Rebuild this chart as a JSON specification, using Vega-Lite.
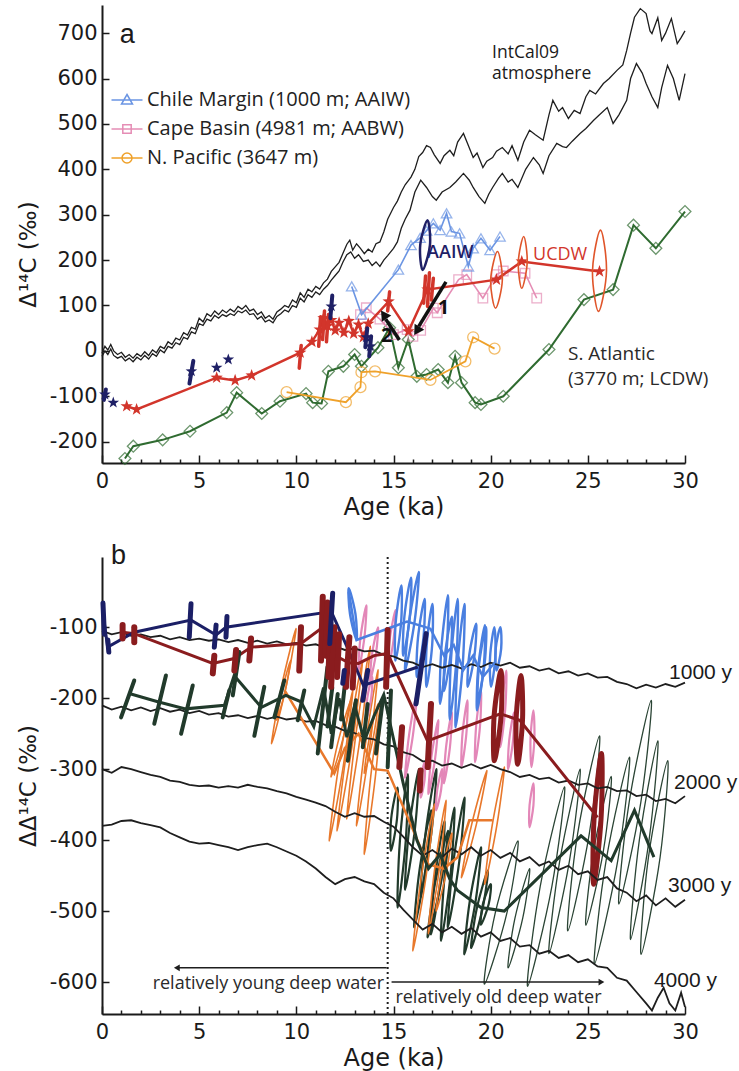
{
"$schema":"https://vega.github.io/schema/vega-lite/v6.json",
"padding":{"left":17,"top":5,"right":5,"bottom":2},
"spacing":23,
"config":{"view":{"stroke":null},"font":"DejaVu Sans",
"axis":{"domainColor":"#1a1a1a","domainWidth":2,"tickColor":"#1a1a1a","tickWidth":1.5,"labelFont":"DejaVu Sans","labelFontSize":21,"labelColor":"#1a1a1a","titleFont":"DejaVu Sans","titleFontSize":23,"titleFontWeight":"normal","titleColor":"#1a1a1a","grid":false,"labelFlush":false,"labelOverlap":false}},
"datasets":{
"ic":[
{"c":"u","a":0,"v":-5},{"c":"u","a":0.15,"v":10},{"c":"u","a":0.3,"v":2},{"c":"u","a":0.45,"v":14},{"c":"u","a":0.6,"v":0},{"c":"u","a":0.8,"v":-8},{"c":"u","a":1,"v":-3},{"c":"u","a":1.2,"v":-14},{"c":"u","a":1.4,"v":-8},{"c":"u","a":1.6,"v":-16},{"c":"u","a":1.8,"v":-6},{"c":"u","a":2,"v":-12},{"c":"u","a":2.2,"v":-2},{"c":"u","a":2.4,"v":-10},{"c":"u","a":2.6,"v":2},{"c":"u","a":2.8,"v":-4},{"c":"u","a":3,"v":10},{"c":"u","a":3.2,"v":5},{"c":"u","a":3.4,"v":20},{"c":"u","a":3.6,"v":14},{"c":"u","a":3.8,"v":28},{"c":"u","a":4,"v":24},{"c":"u","a":4.2,"v":40},{"c":"u","a":4.4,"v":35},{"c":"u","a":4.6,"v":52},{"c":"u","a":4.8,"v":48},{"c":"u","a":5,"v":72},{"c":"u","a":5.2,"v":64},{"c":"u","a":5.4,"v":82},{"c":"u","a":5.6,"v":76},{"c":"u","a":5.8,"v":88},{"c":"u","a":6,"v":80},{"c":"u","a":6.2,"v":90},{"c":"u","a":6.4,"v":84},{"c":"u","a":6.6,"v":92},{"c":"u","a":6.8,"v":86},{"c":"u","a":7,"v":98},{"c":"u","a":7.2,"v":92},{"c":"u","a":7.4,"v":100},{"c":"u","a":7.6,"v":88},{"c":"u","a":7.8,"v":92},{"c":"u","a":8,"v":80},{"c":"u","a":8.2,"v":86},{"c":"u","a":8.4,"v":72},{"c":"u","a":8.6,"v":78},{"c":"u","a":8.8,"v":70},{"c":"u","a":9,"v":86},{"c":"u","a":9.2,"v":92},{"c":"u","a":9.4,"v":100},{"c":"u","a":9.6,"v":96},{"c":"u","a":9.8,"v":112},{"c":"u","a":10,"v":106},{"c":"u","a":10.2,"v":128},{"c":"u","a":10.4,"v":118},{"c":"u","a":10.6,"v":136},{"c":"u","a":10.8,"v":130},{"c":"u","a":11,"v":142},{"c":"u","a":11.2,"v":136},{"c":"u","a":11.4,"v":150},{"c":"u","a":11.6,"v":158},{"c":"u","a":11.8,"v":175},{"c":"u","a":12,"v":185},{"c":"u","a":12.2,"v":195},{"c":"u","a":12.4,"v":215},{"c":"u","a":12.6,"v":235},{"c":"u","a":12.75,"v":244},{"c":"u","a":12.9,"v":222},{"c":"u","a":13.1,"v":236},{"c":"u","a":13.3,"v":226},{"c":"u","a":13.5,"v":214},{"c":"u","a":13.7,"v":224},{"c":"u","a":13.9,"v":218},{"c":"u","a":14.1,"v":236},{"c":"u","a":14.3,"v":240},{"c":"u","a":14.5,"v":262},{"c":"u","a":14.7,"v":290},{"c":"u","a":15,"v":316},{"c":"u","a":15.2,"v":330},{"c":"u","a":15.4,"v":350},{"c":"u","a":15.6,"v":366},{"c":"u","a":15.9,"v":383},{"c":"u","a":16.1,"v":400},{"c":"u","a":16.3,"v":428},{"c":"u","a":16.5,"v":437},{"c":"u","a":16.7,"v":452},{"c":"u","a":16.9,"v":448},{"c":"u","a":17.1,"v":432},{"c":"u","a":17.4,"v":413},{"c":"u","a":17.6,"v":430},{"c":"u","a":17.9,"v":442},{"c":"u","a":18.1,"v":430},{"c":"u","a":18.3,"v":460},{"c":"u","a":18.6,"v":479},{"c":"u","a":18.8,"v":458},{"c":"u","a":19.1,"v":426},{"c":"u","a":19.3,"v":436},{"c":"u","a":19.6,"v":404},{"c":"u","a":19.8,"v":418},{"c":"u","a":20.1,"v":426},{"c":"u","a":20.3,"v":440},{"c":"u","a":20.6,"v":448},{"c":"u","a":20.9,"v":434},{"c":"u","a":21.1,"v":452},{"c":"u","a":21.4,"v":420},{"c":"u","a":21.7,"v":460},{"c":"u","a":22,"v":486},{"c":"u","a":22.3,"v":476},{"c":"u","a":22.7,"v":464},{"c":"u","a":23,"v":520},{"c":"u","a":23.2,"v":552},{"c":"u","a":23.5,"v":528},{"c":"u","a":23.7,"v":536},{"c":"u","a":24,"v":512},{"c":"u","a":24.3,"v":530},{"c":"u","a":24.6,"v":523},{"c":"u","a":24.9,"v":560},{"c":"u","a":25.1,"v":574},{"c":"u","a":25.4,"v":566},{"c":"u","a":25.8,"v":589},{"c":"u","a":26.1,"v":600},{"c":"u","a":26.5,"v":618},{"c":"u","a":26.8,"v":630},{"c":"u","a":27,"v":662},{"c":"u","a":27.2,"v":700},{"c":"u","a":27.4,"v":735},{"c":"u","a":27.7,"v":754},{"c":"u","a":28,"v":743},{"c":"u","a":28.2,"v":705},{"c":"u","a":28.3,"v":699},{"c":"u","a":28.6,"v":734},{"c":"u","a":28.8,"v":684},{"c":"u","a":29,"v":700},{"c":"u","a":29.3,"v":732},{"c":"u","a":29.6,"v":677},{"c":"u","a":29.8,"v":690},{"c":"u","a":30,"v":705},
{"c":"l","a":0,"v":-12},{"c":"l","a":0.15,"v":0},{"c":"l","a":0.3,"v":-8},{"c":"l","a":0.45,"v":4},{"c":"l","a":0.6,"v":-10},{"c":"l","a":0.8,"v":-16},{"c":"l","a":1,"v":-12},{"c":"l","a":1.2,"v":-22},{"c":"l","a":1.4,"v":-16},{"c":"l","a":1.6,"v":-24},{"c":"l","a":1.8,"v":-14},{"c":"l","a":2,"v":-20},{"c":"l","a":2.2,"v":-10},{"c":"l","a":2.4,"v":-18},{"c":"l","a":2.6,"v":-6},{"c":"l","a":2.8,"v":-12},{"c":"l","a":3,"v":2},{"c":"l","a":3.2,"v":-4},{"c":"l","a":3.4,"v":10},{"c":"l","a":3.6,"v":6},{"c":"l","a":3.8,"v":18},{"c":"l","a":4,"v":14},{"c":"l","a":4.2,"v":30},{"c":"l","a":4.4,"v":26},{"c":"l","a":4.6,"v":42},{"c":"l","a":4.8,"v":38},{"c":"l","a":5,"v":60},{"c":"l","a":5.2,"v":56},{"c":"l","a":5.4,"v":70},{"c":"l","a":5.6,"v":66},{"c":"l","a":5.8,"v":78},{"c":"l","a":6,"v":72},{"c":"l","a":6.2,"v":80},{"c":"l","a":6.4,"v":76},{"c":"l","a":6.6,"v":82},{"c":"l","a":6.8,"v":78},{"c":"l","a":7,"v":88},{"c":"l","a":7.2,"v":84},{"c":"l","a":7.4,"v":90},{"c":"l","a":7.6,"v":80},{"c":"l","a":7.8,"v":82},{"c":"l","a":8,"v":70},{"c":"l","a":8.2,"v":76},{"c":"l","a":8.4,"v":64},{"c":"l","a":8.6,"v":68},{"c":"l","a":8.8,"v":62},{"c":"l","a":9,"v":76},{"c":"l","a":9.2,"v":82},{"c":"l","a":9.4,"v":90},{"c":"l","a":9.6,"v":86},{"c":"l","a":9.8,"v":100},{"c":"l","a":10,"v":96},{"c":"l","a":10.2,"v":116},{"c":"l","a":10.4,"v":108},{"c":"l","a":10.6,"v":124},{"c":"l","a":10.8,"v":118},{"c":"l","a":11,"v":130},{"c":"l","a":11.2,"v":124},{"c":"l","a":11.4,"v":136},{"c":"l","a":11.6,"v":144},{"c":"l","a":11.8,"v":156},{"c":"l","a":12,"v":166},{"c":"l","a":12.2,"v":176},{"c":"l","a":12.4,"v":196},{"c":"l","a":12.6,"v":212},{"c":"l","a":12.8,"v":218},{"c":"l","a":13,"v":204},{"c":"l","a":13.2,"v":212},{"c":"l","a":13.45,"v":197},{"c":"l","a":13.7,"v":200},{"c":"l","a":13.9,"v":188},{"c":"l","a":14.1,"v":196},{"c":"l","a":14.3,"v":186},{"c":"l","a":14.5,"v":200},{"c":"l","a":14.7,"v":210},{"c":"l","a":15,"v":226},{"c":"l","a":15.2,"v":240},{"c":"l","a":15.4,"v":270},{"c":"l","a":15.6,"v":290},{"c":"l","a":15.85,"v":310},{"c":"l","a":16.1,"v":350},{"c":"l","a":16.4,"v":376},{"c":"l","a":16.7,"v":360},{"c":"l","a":17,"v":340},{"c":"l","a":17.2,"v":332},{"c":"l","a":17.5,"v":350},{"c":"l","a":17.9,"v":360},{"c":"l","a":18.2,"v":372},{"c":"l","a":18.6,"v":391},{"c":"l","a":18.9,"v":376},{"c":"l","a":19.1,"v":360},{"c":"l","a":19.4,"v":340},{"c":"l","a":19.7,"v":325},{"c":"l","a":19.9,"v":345},{"c":"l","a":20.1,"v":360},{"c":"l","a":20.4,"v":380},{"c":"l","a":20.6,"v":391},{"c":"l","a":20.9,"v":372},{"c":"l","a":21.1,"v":378},{"c":"l","a":21.4,"v":360},{"c":"l","a":21.8,"v":400},{"c":"l","a":22.2,"v":426},{"c":"l","a":22.5,"v":410},{"c":"l","a":22.7,"v":391},{"c":"l","a":23,"v":430},{"c":"l","a":23.4,"v":457},{"c":"l","a":23.7,"v":450},{"c":"l","a":23.9,"v":448},{"c":"l","a":24.2,"v":462},{"c":"l","a":24.6,"v":479},{"c":"l","a":24.9,"v":490},{"c":"l","a":25.3,"v":508},{"c":"l","a":25.6,"v":520},{"c":"l","a":26,"v":536},{"c":"l","a":26.3,"v":501},{"c":"l","a":26.6,"v":520},{"c":"l","a":27,"v":552},{"c":"l","a":27.2,"v":600},{"c":"l","a":27.5,"v":633},{"c":"l","a":27.8,"v":612},{"c":"l","a":28,"v":589},{"c":"l","a":28.3,"v":560},{"c":"l","a":28.6,"v":536},{"c":"l","a":28.8,"v":580},{"c":"l","a":29.1,"v":629},{"c":"l","a":29.4,"v":600},{"c":"l","a":29.7,"v":552},{"c":"l","a":30,"v":611}],
"chile":[{"a":12.85,"v":142},{"a":13.36,"v":80},{"a":15.25,"v":179},{"a":15.9,"v":233},{"a":16.37,"v":249},{"a":16.7,"v":265},{"a":17.05,"v":281},{"a":17.4,"v":266},{"a":17.73,"v":303},{"a":17.98,"v":263},{"a":18.4,"v":259},{"a":18.85,"v":186},{"a":19.1,"v":226},{"a":19.5,"v":248},{"a":19.97,"v":222},{"a":20.48,"v":252}],
"cape":[{"a":13.3,"v":80},{"a":13.6,"v":95},{"a":14.3,"v":70},{"a":15.0,"v":36},{"a":15.7,"v":47},{"a":16.0,"v":32},{"a":16.4,"v":45},{"a":17.05,"v":94},{"a":17.25,"v":84},{"a":18.35,"v":157},{"a":18.77,"v":168},{"a":19.6,"v":116},{"a":20.3,"v":168},{"a":20.65,"v":176},{"a":21.77,"v":171},{"a":22.37,"v":116}],
"npac":[{"a":9.5,"v":-91},{"a":12.55,"v":-113},{"a":13.3,"v":-80},{"a":13.35,"v":-47},{"a":14.05,"v":-45},{"a":16.9,"v":-64},{"a":18.7,"v":-23},{"a":19.1,"v":30},{"a":20.2,"v":5}],
"ucdw":[{"a":1.27,"v":-122},{"a":1.78,"v":-129},{"a":5.9,"v":-59},{"a":6.85,"v":-65},{"a":7.7,"v":-54},{"a":10.2,"v":-4},{"a":10.8,"v":20},{"a":11.2,"v":47},{"a":11.4,"v":72},{"a":11.6,"v":55},{"a":11.8,"v":68},{"a":12.0,"v":45},{"a":12.2,"v":62},{"a":12.45,"v":40},{"a":12.7,"v":66},{"a":12.95,"v":38},{"a":13.2,"v":58},{"a":13.45,"v":30},{"a":13.7,"v":60},{"a":14.75,"v":109},{"a":15.77,"v":43},{"a":16.75,"v":135},{"a":20.3,"v":157},{"a":21.6,"v":197},{"a":25.6,"v":175}],
"satl":[{"a":1.18,"v":-237},{"a":1.61,"v":-210},{"a":3.12,"v":-196},{"a":4.53,"v":-177},{"a":6.42,"v":-136},{"a":6.93,"v":-92},{"a":8.22,"v":-138},{"a":9.16,"v":-111},{"a":10.5,"v":-94},{"a":10.84,"v":-114},{"a":11.3,"v":-116},{"a":11.65,"v":-45},{"a":12.42,"v":-34},{"a":13.0,"v":-8},{"a":13.35,"v":-34},{"a":14.2,"v":7},{"a":14.8,"v":51},{"a":15.25,"v":-37},{"a":15.76,"v":25},{"a":16.2,"v":-56},{"a":16.7,"v":-52},{"a":17.3,"v":-41},{"a":17.8,"v":-70},{"a":18.17,"v":-12},{"a":18.5,"v":-70},{"a":19.2,"v":-114},{"a":19.5,"v":-118},{"a":20.65,"v":-100},{"a":23.0,"v":3},{"a":24.8,"v":113},{"a":26.3,"v":135},{"a":27.35,"v":277},{"a":28.5,"v":226},{"a":30.0,"v":307}],
"nstar":[{"a":0.15,"v":-96},{"a":0.58,"v":-114},{"a":4.6,"v":-45},{"a":5.9,"v":-37},{"a":6.5,"v":-19},{"a":11.8,"v":98},{"a":13.6,"v":30},{"a":13.8,"v":10}],
"abar":[{"s":"r","a":10.25,"v":12,"a2":10.15,"v2":-38},{"s":"r","a":11.25,"v":75,"a2":11.15,"v2":10},{"s":"r","a":11.45,"v":88,"a2":11.35,"v2":25},{"s":"r","a":11.65,"v":80,"a2":11.55,"v2":20},{"s":"r","a":16.65,"v":165,"a2":16.55,"v2":105},{"s":"r","a":16.85,"v":172,"a2":16.75,"v2":98},{"s":"r","a":17.05,"v":160,"a2":16.95,"v2":112},{"s":"r","a":14.8,"v":130,"a2":14.7,"v2":88},
{"s":"n","a":4.7,"v":-22,"a2":4.5,"v2":-72},{"s":"n","a":11.85,"v":122,"a2":11.75,"v2":72},{"s":"n","a":13.65,"v":50,"a2":13.55,"v2":8},{"s":"n","a":13.85,"v":32,"a2":13.75,"v2":-12},{"s":"n","a":0.2,"v":-85,"a2":0.1,"v2":-108}],
"aell":[{"s":"n","g":"n1","k":0,"a":16.75,"v":288},{"s":"n","g":"n1","k":1,"a":16.875,"v":233},{"s":"n","g":"n1","k":2,"a":16.5,"v":178},{"s":"n","g":"n1","k":3,"a":16.375,"v":233},
{"s":"r","g":"r1","k":0,"a":20.35,"v":219},{"s":"r","g":"r1","k":1,"a":20.6,"v":156},{"s":"r","g":"r1","k":2,"a":20.25,"v":94},{"s":"r","g":"r1","k":3,"a":20.0,"v":156},
{"s":"r","g":"r2","k":0,"a":21.7,"v":252},{"s":"r","g":"r2","k":1,"a":21.88,"v":195},{"s":"r","g":"r2","k":2,"a":21.6,"v":138},{"s":"r","g":"r2","k":3,"a":21.42,"v":195},
{"s":"r","g":"r3","k":0,"a":25.65,"v":266},{"s":"r","g":"r3","k":1,"a":25.96,"v":176},{"s":"r","g":"r3","k":2,"a":25.55,"v":87},{"s":"r","g":"r3","k":3,"a":25.24,"v":176}],
"rl":[
{"c":"1","a":0,"v":-105},{"c":"1","a":0.5,"v":-110},{"c":"1","a":1,"v":-107},{"c":"1","a":1.5,"v":-112},{"c":"1","a":2,"v":-110},{"c":"1","a":2.5,"v":-114},{"c":"1","a":3,"v":-112},{"c":"1","a":3.5,"v":-117},{"c":"1","a":4,"v":-114},{"c":"1","a":4.5,"v":-118},{"c":"1","a":5,"v":-116},{"c":"1","a":5.5,"v":-119},{"c":"1","a":6,"v":-117},{"c":"1","a":6.5,"v":-121},{"c":"1","a":7,"v":-118},{"c":"1","a":7.5,"v":-122},{"c":"1","a":8,"v":-119},{"c":"1","a":8.5,"v":-123},{"c":"1","a":9,"v":-120},{"c":"1","a":9.5,"v":-124},{"c":"1","a":10,"v":-122},{"c":"1","a":10.5,"v":-126},{"c":"1","a":11,"v":-124},{"c":"1","a":11.5,"v":-129},{"c":"1","a":12,"v":-127},{"c":"1","a":12.5,"v":-132},{"c":"1","a":13,"v":-130},{"c":"1","a":13.5,"v":-134},{"c":"1","a":14,"v":-133},{"c":"1","a":14.5,"v":-139},{"c":"1","a":15,"v":-141},{"c":"1","a":15.5,"v":-147},{"c":"1","a":16,"v":-150},{"c":"1","a":16.5,"v":-156},{"c":"1","a":17,"v":-152},{"c":"1","a":17.5,"v":-157},{"c":"1","a":18,"v":-153},{"c":"1","a":18.5,"v":-158},{"c":"1","a":19,"v":-152},{"c":"1","a":19.5,"v":-156},{"c":"1","a":20,"v":-150},{"c":"1","a":20.5,"v":-154},{"c":"1","a":21,"v":-150},{"c":"1","a":21.5,"v":-157},{"c":"1","a":22,"v":-155},{"c":"1","a":22.5,"v":-161},{"c":"1","a":23,"v":-158},{"c":"1","a":23.5,"v":-165},{"c":"1","a":24,"v":-162},{"c":"1","a":24.5,"v":-168},{"c":"1","a":25,"v":-165},{"c":"1","a":25.5,"v":-171},{"c":"1","a":26,"v":-170},{"c":"1","a":26.5,"v":-177},{"c":"1","a":27,"v":-180},{"c":"1","a":27.5,"v":-186},{"c":"1","a":28,"v":-181},{"c":"1","a":28.5,"v":-185},{"c":"1","a":29,"v":-180},{"c":"1","a":29.5,"v":-184},{"c":"1","a":30,"v":-178},
{"c":"2","a":0,"v":-210},{"c":"2","a":0.5,"v":-216},{"c":"2","a":1,"v":-212},{"c":"2","a":1.5,"v":-217},{"c":"2","a":2,"v":-213},{"c":"2","a":2.5,"v":-218},{"c":"2","a":3,"v":-214},{"c":"2","a":3.5,"v":-219},{"c":"2","a":4,"v":-216},{"c":"2","a":4.5,"v":-221},{"c":"2","a":5,"v":-218},{"c":"2","a":5.5,"v":-223},{"c":"2","a":6,"v":-221},{"c":"2","a":6.5,"v":-226},{"c":"2","a":7,"v":-224},{"c":"2","a":7.5,"v":-228},{"c":"2","a":8,"v":-225},{"c":"2","a":8.5,"v":-229},{"c":"2","a":9,"v":-226},{"c":"2","a":9.5,"v":-230},{"c":"2","a":10,"v":-228},{"c":"2","a":10.5,"v":-233},{"c":"2","a":11,"v":-232},{"c":"2","a":11.5,"v":-238},{"c":"2","a":12,"v":-240},{"c":"2","a":12.5,"v":-246},{"c":"2","a":13,"v":-249},{"c":"2","a":13.5,"v":-256},{"c":"2","a":14,"v":-258},{"c":"2","a":14.5,"v":-265},{"c":"2","a":15,"v":-268},{"c":"2","a":15.5,"v":-276},{"c":"2","a":16,"v":-280},{"c":"2","a":16.5,"v":-289},{"c":"2","a":17,"v":-288},{"c":"2","a":17.5,"v":-295},{"c":"2","a":18,"v":-292},{"c":"2","a":18.5,"v":-298},{"c":"2","a":19,"v":-293},{"c":"2","a":19.5,"v":-299},{"c":"2","a":20,"v":-294},{"c":"2","a":20.5,"v":-300},{"c":"2","a":21,"v":-304},{"c":"2","a":21.5,"v":-311},{"c":"2","a":22,"v":-308},{"c":"2","a":22.5,"v":-314},{"c":"2","a":23,"v":-312},{"c":"2","a":23.5,"v":-319},{"c":"2","a":24,"v":-316},{"c":"2","a":24.5,"v":-322},{"c":"2","a":25,"v":-320},{"c":"2","a":25.5,"v":-327},{"c":"2","a":26,"v":-325},{"c":"2","a":26.5,"v":-331},{"c":"2","a":27,"v":-330},{"c":"2","a":27.5,"v":-338},{"c":"2","a":28,"v":-336},{"c":"2","a":28.5,"v":-345},{"c":"2","a":29,"v":-342},{"c":"2","a":29.5,"v":-348},{"c":"2","a":30,"v":-338},
{"c":"3","a":0,"v":-300},{"c":"3","a":0.5,"v":-305},{"c":"3","a":1,"v":-297},{"c":"3","a":1.5,"v":-300},{"c":"3","a":2,"v":-304},{"c":"3","a":2.5,"v":-308},{"c":"3","a":3,"v":-311},{"c":"3","a":3.5,"v":-316},{"c":"3","a":4,"v":-318},{"c":"3","a":4.5,"v":-322},{"c":"3","a":5,"v":-324},{"c":"3","a":5.5,"v":-323},{"c":"3","a":6,"v":-326},{"c":"3","a":6.5,"v":-324},{"c":"3","a":7,"v":-326},{"c":"3","a":7.5,"v":-322},{"c":"3","a":8,"v":-325},{"c":"3","a":8.5,"v":-327},{"c":"3","a":9,"v":-331},{"c":"3","a":9.5,"v":-334},{"c":"3","a":10,"v":-339},{"c":"3","a":10.5,"v":-343},{"c":"3","a":11,"v":-347},{"c":"3","a":11.5,"v":-352},{"c":"3","a":12,"v":-360},{"c":"3","a":12.5,"v":-367},{"c":"3","a":13,"v":-362},{"c":"3","a":13.5,"v":-367},{"c":"3","a":14,"v":-366},{"c":"3","a":14.5,"v":-374},{"c":"3","a":15,"v":-381},{"c":"3","a":15.5,"v":-395},{"c":"3","a":16,"v":-410},{"c":"3","a":16.5,"v":-422},{"c":"3","a":17,"v":-414},{"c":"3","a":17.5,"v":-424},{"c":"3","a":18,"v":-412},{"c":"3","a":18.5,"v":-420},{"c":"3","a":19,"v":-410},{"c":"3","a":19.5,"v":-422},{"c":"3","a":20,"v":-414},{"c":"3","a":20.5,"v":-425},{"c":"3","a":21,"v":-418},{"c":"3","a":21.5,"v":-430},{"c":"3","a":22,"v":-424},{"c":"3","a":22.5,"v":-436},{"c":"3","a":23,"v":-430},{"c":"3","a":23.5,"v":-442},{"c":"3","a":24,"v":-436},{"c":"3","a":24.5,"v":-448},{"c":"3","a":25,"v":-444},{"c":"3","a":25.5,"v":-456},{"c":"3","a":26,"v":-452},{"c":"3","a":26.5,"v":-468},{"c":"3","a":27,"v":-474},{"c":"3","a":27.5,"v":-486},{"c":"3","a":28,"v":-478},{"c":"3","a":28.5,"v":-492},{"c":"3","a":29,"v":-482},{"c":"3","a":29.5,"v":-494},{"c":"3","a":30,"v":-484},
{"c":"4","a":0,"v":-380},{"c":"4","a":0.5,"v":-378},{"c":"4","a":1,"v":-373},{"c":"4","a":1.5,"v":-372},{"c":"4","a":2,"v":-376},{"c":"4","a":2.5,"v":-379},{"c":"4","a":3,"v":-382},{"c":"4","a":3.5,"v":-390},{"c":"4","a":4,"v":-396},{"c":"4","a":4.5,"v":-402},{"c":"4","a":5,"v":-405},{"c":"4","a":5.5,"v":-404},{"c":"4","a":6,"v":-407},{"c":"4","a":6.5,"v":-410},{"c":"4","a":7,"v":-414},{"c":"4","a":7.5,"v":-410},{"c":"4","a":8,"v":-407},{"c":"4","a":8.5,"v":-405},{"c":"4","a":9,"v":-410},{"c":"4","a":9.5,"v":-416},{"c":"4","a":10,"v":-422},{"c":"4","a":10.5,"v":-430},{"c":"4","a":11,"v":-440},{"c":"4","a":11.5,"v":-452},{"c":"4","a":12,"v":-462},{"c":"4","a":12.5,"v":-455},{"c":"4","a":13,"v":-452},{"c":"4","a":13.5,"v":-458},{"c":"4","a":14,"v":-462},{"c":"4","a":14.5,"v":-474},{"c":"4","a":15,"v":-482},{"c":"4","a":15.5,"v":-498},{"c":"4","a":16,"v":-512},{"c":"4","a":16.5,"v":-526},{"c":"4","a":17,"v":-518},{"c":"4","a":17.5,"v":-530},{"c":"4","a":18,"v":-522},{"c":"4","a":18.5,"v":-532},{"c":"4","a":19,"v":-524},{"c":"4","a":19.5,"v":-536},{"c":"4","a":20,"v":-530},{"c":"4","a":20.5,"v":-542},{"c":"4","a":21,"v":-538},{"c":"4","a":21.5,"v":-550},{"c":"4","a":22,"v":-548},{"c":"4","a":22.5,"v":-560},{"c":"4","a":23,"v":-556},{"c":"4","a":23.5,"v":-566},{"c":"4","a":24,"v":-562},{"c":"4","a":24.5,"v":-572},{"c":"4","a":25,"v":-568},{"c":"4","a":25.5,"v":-578},{"c":"4","a":26,"v":-580},{"c":"4","a":26.5,"v":-594},{"c":"4","a":27,"v":-598},{"c":"4","a":27.5,"v":-614},{"c":"4","a":28,"v":-630},{"c":"4","a":28.3,"v":-640},{"c":"4","a":28.6,"v":-622},{"c":"4","a":28.9,"v":-608},{"c":"4","a":29.2,"v":-630},{"c":"4","a":29.5,"v":-640},{"c":"4","a":29.8,"v":-615},{"c":"4","a":30,"v":-635}],
"bell":[
{"s":"G","g":"G1","k":0,"a":21.4,"v":-401},{"s":"G","g":"G1","k":1,"a":20.84,"v":-502},{"s":"G","g":"G1","k":2,"a":19.68,"v":-603},{"s":"G","g":"G1","k":3,"a":20.24,"v":-502},
{"s":"G","g":"G2","k":0,"a":23.8,"v":-325},{"s":"G","g":"G2","k":1,"a":23.15,"v":-465},{"s":"G","g":"G2","k":2,"a":21.9,"v":-606},{"s":"G","g":"G2","k":3,"a":22.55,"v":-465},
{"s":"G","g":"G3","k":0,"a":25.6,"v":-253},{"s":"G","g":"G3","k":1,"a":25.08,"v":-390},{"s":"G","g":"G3","k":2,"a":23.97,"v":-528},{"s":"G","g":"G3","k":3,"a":24.48,"v":-390},
{"s":"G","g":"G4","k":0,"a":27.14,"v":-283},{"s":"G","g":"G4","k":1,"a":26.54,"v":-429},{"s":"G","g":"G4","k":2,"a":25.34,"v":-575},{"s":"G","g":"G4","k":3,"a":25.94,"v":-429},
{"s":"G","g":"G5","k":0,"a":28.26,"v":-203},{"s":"G","g":"G5","k":1,"a":27.73,"v":-346},{"s":"G","g":"G5","k":2,"a":26.6,"v":-490},{"s":"G","g":"G5","k":3,"a":27.13,"v":-346},
{"s":"G","g":"G6","k":0,"a":29.11,"v":-288},{"s":"G","g":"G6","k":1,"a":28.72,"v":-424},{"s":"G","g":"G6","k":2,"a":27.74,"v":-561},{"s":"G","g":"G6","k":3,"a":28.12,"v":-424},
{"s":"G","g":"G7","k":0,"a":24.6,"v":-300},{"s":"G","g":"G7","k":1,"a":24.05,"v":-430},{"s":"G","g":"G7","k":2,"a":23.0,"v":-560},{"s":"G","g":"G7","k":3,"a":23.55,"v":-430},
{"s":"G","g":"G8","k":0,"a":28.6,"v":-260},{"s":"G","g":"G8","k":1,"a":28.15,"v":-400},{"s":"G","g":"G8","k":2,"a":27.2,"v":-540},{"s":"G","g":"G8","k":3,"a":27.65,"v":-400},
{"s":"G","g":"G9","k":0,"a":26.2,"v":-310},{"s":"G","g":"G9","k":1,"a":25.8,"v":-415},{"s":"G","g":"G9","k":2,"a":24.9,"v":-520},{"s":"G","g":"G9","k":3,"a":25.3,"v":-415},
{"s":"G","g":"G10","k":0,"a":22.0,"v":-440},{"s":"G","g":"G10","k":1,"a":21.65,"v":-510},{"s":"G","g":"G10","k":2,"a":20.9,"v":-580},{"s":"G","g":"G10","k":3,"a":21.25,"v":-510},
{"s":"M","g":"M1","k":0,"a":15.73,"v":-307},{"s":"M","g":"M1","k":1,"a":15.63,"v":-401},{"s":"M","g":"M1","k":2,"a":15.22,"v":-495},{"s":"M","g":"M1","k":3,"a":15.33,"v":-401},
{"s":"M","g":"M2","k":0,"a":16.93,"v":-358},{"s":"M","g":"M2","k":1,"a":16.65,"v":-440},{"s":"M","g":"M2","k":2,"a":16.07,"v":-523},{"s":"M","g":"M2","k":3,"a":16.35,"v":-440},
{"s":"M","g":"M3","k":0,"a":17.62,"v":-373},{"s":"M","g":"M3","k":1,"a":17.43,"v":-453},{"s":"M","g":"M3","k":2,"a":16.93,"v":-533},{"s":"M","g":"M3","k":3,"a":17.13,"v":-453},
{"s":"M","g":"M4","k":0,"a":18.13,"v":-354},{"s":"M","g":"M4","k":1,"a":17.94,"v":-448},{"s":"M","g":"M4","k":2,"a":17.45,"v":-542},{"s":"M","g":"M4","k":3,"a":17.64,"v":-448},
{"s":"M","g":"M5","k":0,"a":18.65,"v":-340},{"s":"M","g":"M5","k":1,"a":18.38,"v":-431},{"s":"M","g":"M5","k":2,"a":17.8,"v":-523},{"s":"M","g":"M5","k":3,"a":18.08,"v":-431},
{"s":"M","g":"M6","k":0,"a":19.5,"v":-410},{"s":"M","g":"M6","k":1,"a":19.23,"v":-485},{"s":"M","g":"M6","k":2,"a":18.65,"v":-561},{"s":"M","g":"M6","k":3,"a":18.93,"v":-485},
{"s":"M","g":"M7","k":0,"a":19.85,"v":-443},{"s":"M","g":"M7","k":1,"a":19.58,"v":-497},{"s":"M","g":"M7","k":2,"a":19.0,"v":-552},{"s":"M","g":"M7","k":3,"a":19.28,"v":-497},
{"s":"M","g":"M8","k":0,"a":20.0,"v":-462},{"s":"M","g":"M8","k":1,"a":19.9,"v":-490},{"s":"M","g":"M8","k":2,"a":19.5,"v":-519},{"s":"M","g":"M8","k":3,"a":19.6,"v":-490},
{"s":"M","g":"M9","k":0,"a":15.2,"v":-326},{"s":"M","g":"M9","k":1,"a":15.18,"v":-370},{"s":"M","g":"M9","k":2,"a":14.87,"v":-415},{"s":"M","g":"M9","k":3,"a":14.88,"v":-370},
{"s":"M","g":"M10","k":0,"a":17.8,"v":-387},{"s":"M","g":"M10","k":1,"a":17.43,"v":-462},{"s":"M","g":"M10","k":2,"a":16.76,"v":-537},{"s":"M","g":"M10","k":3,"a":17.13,"v":-462},
{"s":"M","g":"M11","k":0,"a":17.2,"v":-300},{"s":"M","g":"M11","k":1,"a":16.95,"v":-390},{"s":"M","g":"M11","k":2,"a":16.4,"v":-480},{"s":"M","g":"M11","k":3,"a":16.65,"v":-390},
{"s":"M","g":"M12","k":0,"a":16.3,"v":-300},{"s":"M","g":"M12","k":1,"a":16.1,"v":-385},{"s":"M","g":"M12","k":2,"a":15.6,"v":-470},{"s":"M","g":"M12","k":3,"a":15.8,"v":-385},
{"s":"O","g":"O1","k":0,"a":9.98,"v":-102},{"s":"O","g":"O1","k":1,"a":9.48,"v":-183},{"s":"O","g":"O1","k":2,"a":8.73,"v":-264},{"s":"O","g":"O1","k":3,"a":9.24,"v":-183},
{"s":"O","g":"O2","k":0,"a":9.7,"v":-147},{"s":"O","g":"O2","k":1,"a":9.43,"v":-189},{"s":"O","g":"O2","k":2,"a":9.0,"v":-231},{"s":"O","g":"O2","k":3,"a":9.27,"v":-189},
{"s":"O","g":"O3","k":0,"a":12.9,"v":-189},{"s":"O","g":"O3","k":1,"a":12.42,"v":-295},{"s":"O","g":"O3","k":2,"a":11.7,"v":-401},{"s":"O","g":"O3","k":3,"a":12.18,"v":-295},
{"s":"O","g":"O4","k":0,"a":13.4,"v":-147},{"s":"O","g":"O4","k":1,"a":12.87,"v":-267},{"s":"O","g":"O4","k":2,"a":12.1,"v":-387},{"s":"O","g":"O4","k":3,"a":12.63,"v":-267},
{"s":"O","g":"O5","k":0,"a":13.8,"v":-127},{"s":"O","g":"O5","k":1,"a":13.32,"v":-248},{"s":"O","g":"O5","k":2,"a":12.6,"v":-370},{"s":"O","g":"O5","k":3,"a":13.08,"v":-248},
{"s":"O","g":"O6","k":0,"a":14.2,"v":-160},{"s":"O","g":"O6","k":1,"a":13.77,"v":-270},{"s":"O","g":"O6","k":2,"a":13.1,"v":-380},{"s":"O","g":"O6","k":3,"a":13.53,"v":-270},
{"s":"O","g":"O7","k":0,"a":14.4,"v":-200},{"s":"O","g":"O7","k":1,"a":14.07,"v":-310},{"s":"O","g":"O7","k":2,"a":13.5,"v":-420},{"s":"O","g":"O7","k":3,"a":13.83,"v":-310},
{"s":"O","g":"O8","k":0,"a":17.1,"v":-349},{"s":"O","g":"O8","k":1,"a":16.67,"v":-452},{"s":"O","g":"O8","k":2,"a":16.0,"v":-556},{"s":"O","g":"O8","k":3,"a":16.43,"v":-452},
{"s":"O","g":"O9","k":0,"a":17.7,"v":-344},{"s":"O","g":"O9","k":1,"a":17.37,"v":-438},{"s":"O","g":"O9","k":2,"a":16.8,"v":-532},{"s":"O","g":"O9","k":3,"a":17.13,"v":-438},
{"s":"O","g":"O10","k":0,"a":19.8,"v":-302},{"s":"O","g":"O10","k":1,"a":19.27,"v":-377},{"s":"O","g":"O10","k":2,"a":18.5,"v":-453},{"s":"O","g":"O10","k":3,"a":19.03,"v":-377},
{"s":"O","g":"O11","k":0,"a":20.7,"v":-297},{"s":"O","g":"O11","k":1,"a":20.32,"v":-379},{"s":"O","g":"O11","k":2,"a":19.7,"v":-462},{"s":"O","g":"O11","k":3,"a":20.08,"v":-379},
{"s":"O","g":"O12","k":0,"a":18.0,"v":-390},{"s":"O","g":"O12","k":1,"a":17.72,"v":-445},{"s":"O","g":"O12","k":2,"a":17.2,"v":-500},{"s":"O","g":"O12","k":3,"a":17.48,"v":-445},
{"s":"O","g":"O13","k":0,"a":12.8,"v":-203},{"s":"O","g":"O13","k":1,"a":12.4,"v":-257},{"s":"O","g":"O13","k":2,"a":11.79,"v":-311},{"s":"O","g":"O13","k":3,"a":12.19,"v":-257},
{"s":"O","g":"O14","k":0,"a":14.2,"v":-208},{"s":"O","g":"O14","k":1,"a":13.95,"v":-257},{"s":"O","g":"O14","k":2,"a":13.5,"v":-306},{"s":"O","g":"O14","k":3,"a":13.75,"v":-257},
{"s":"P","g":"P1","k":0,"a":13.6,"v":-69},{"s":"P","g":"P1","k":1,"a":13.5,"v":-115},{"s":"P","g":"P1","k":2,"a":13.2,"v":-161},{"s":"P","g":"P1","k":3,"a":13.3,"v":-115},
{"s":"P","g":"P2","k":0,"a":14.2,"v":-100},{"s":"P","g":"P2","k":1,"a":14.1,"v":-137},{"s":"P","g":"P2","k":2,"a":13.8,"v":-175},{"s":"P","g":"P2","k":3,"a":13.9,"v":-137},
{"s":"P","g":"P3","k":0,"a":15.1,"v":-76},{"s":"P","g":"P3","k":1,"a":15.0,"v":-118},{"s":"P","g":"P3","k":2,"a":14.7,"v":-161},{"s":"P","g":"P3","k":3,"a":14.8,"v":-118},
{"s":"P","g":"P4","k":0,"a":16.2,"v":-193},{"s":"P","g":"P4","k":1,"a":16.0,"v":-252},{"s":"P","g":"P4","k":2,"a":15.6,"v":-312},{"s":"P","g":"P4","k":3,"a":15.8,"v":-252},
{"s":"P","g":"P5","k":0,"a":17.3,"v":-231},{"s":"P","g":"P5","k":1,"a":17.15,"v":-283},{"s":"P","g":"P5","k":2,"a":16.8,"v":-335},{"s":"P","g":"P5","k":3,"a":16.95,"v":-283},
{"s":"P","g":"P6","k":0,"a":18.0,"v":-220},{"s":"P","g":"P6","k":1,"a":17.9,"v":-270},{"s":"P","g":"P6","k":2,"a":17.6,"v":-320},{"s":"P","g":"P6","k":3,"a":17.7,"v":-270},
{"s":"P","g":"P7","k":0,"a":18.8,"v":-203},{"s":"P","g":"P7","k":1,"a":18.75,"v":-250},{"s":"P","g":"P7","k":2,"a":18.5,"v":-297},{"s":"P","g":"P7","k":3,"a":18.55,"v":-250},
{"s":"P","g":"P8","k":0,"a":19.5,"v":-190},{"s":"P","g":"P8","k":1,"a":19.45,"v":-240},{"s":"P","g":"P8","k":2,"a":19.2,"v":-290},{"s":"P","g":"P8","k":3,"a":19.25,"v":-240},
{"s":"P","g":"P9","k":0,"a":20.8,"v":-161},{"s":"P","g":"P9","k":1,"a":20.75,"v":-215},{"s":"P","g":"P9","k":2,"a":20.5,"v":-269},{"s":"P","g":"P9","k":3,"a":20.55,"v":-215},
{"s":"P","g":"P10","k":0,"a":22.2,"v":-217},{"s":"P","g":"P10","k":1,"a":22.25,"v":-257},{"s":"P","g":"P10","k":2,"a":22.1,"v":-297},{"s":"P","g":"P10","k":3,"a":22.05,"v":-257},
{"s":"P","g":"P11","k":0,"a":22.2,"v":-320},{"s":"P","g":"P11","k":1,"a":22.2,"v":-351},{"s":"P","g":"P11","k":2,"a":22.0,"v":-382},{"s":"P","g":"P11","k":3,"a":22.0,"v":-351},
{"s":"P","g":"P12","k":0,"a":17.5,"v":-300},{"s":"P","g":"P12","k":1,"a":17.45,"v":-329},{"s":"P","g":"P12","k":2,"a":17.2,"v":-358},{"s":"P","g":"P12","k":3,"a":17.25,"v":-329},
{"s":"P","g":"P13","k":0,"a":13.9,"v":-170},{"s":"P","g":"P13","k":1,"a":13.85,"v":-200},{"s":"P","g":"P13","k":2,"a":13.6,"v":-230},{"s":"P","g":"P13","k":3,"a":13.65,"v":-200},
{"s":"P","g":"P14","k":0,"a":16.6,"v":-290},{"s":"P","g":"P14","k":1,"a":16.6,"v":-315},{"s":"P","g":"P14","k":2,"a":16.4,"v":-340},{"s":"P","g":"P14","k":3,"a":16.4,"v":-315},
{"s":"P","g":"P15","k":0,"a":21.2,"v":-220},{"s":"P","g":"P15","k":1,"a":21.15,"v":-260},{"s":"P","g":"P15","k":2,"a":20.9,"v":-300},{"s":"P","g":"P15","k":3,"a":20.95,"v":-260},
{"s":"B","g":"B1","k":0,"a":12.7,"v":-45},{"s":"B","g":"B1","k":1,"a":13.04,"v":-81},{"s":"B","g":"B1","k":2,"a":13.1,"v":-118},{"s":"B","g":"B1","k":3,"a":12.76,"v":-81},
{"s":"B","g":"B2","k":0,"a":15.4,"v":-41},{"s":"B","g":"B2","k":1,"a":15.39,"v":-94},{"s":"B","g":"B2","k":2,"a":15.1,"v":-147},{"s":"B","g":"B2","k":3,"a":15.11,"v":-94},
{"s":"B","g":"B3","k":0,"a":16.3,"v":-22},{"s":"B","g":"B3","k":1,"a":16.09,"v":-91},{"s":"B","g":"B3","k":2,"a":15.6,"v":-161},{"s":"B","g":"B3","k":3,"a":15.81,"v":-91},
{"s":"B","g":"B4","k":0,"a":17.0,"v":-67},{"s":"B","g":"B4","k":1,"a":16.99,"v":-125},{"s":"B","g":"B4","k":2,"a":16.7,"v":-184},{"s":"B","g":"B4","k":3,"a":16.71,"v":-125},
{"s":"B","g":"B5","k":0,"a":17.8,"v":-55},{"s":"B","g":"B5","k":1,"a":17.74,"v":-131},{"s":"B","g":"B5","k":2,"a":17.4,"v":-208},{"s":"B","g":"B5","k":3,"a":17.46,"v":-131},
{"s":"B","g":"B6","k":0,"a":18.65,"v":-67},{"s":"B","g":"B6","k":1,"a":18.56,"v":-154},{"s":"B","g":"B6","k":2,"a":18.2,"v":-241},{"s":"B","g":"B6","k":3,"a":18.29,"v":-154},
{"s":"B","g":"B7","k":0,"a":19.7,"v":-97},{"s":"B","g":"B7","k":1,"a":19.64,"v":-157},{"s":"B","g":"B7","k":2,"a":19.3,"v":-217},{"s":"B","g":"B7","k":3,"a":19.36,"v":-157},
{"s":"B","g":"B8","k":0,"a":20.5,"v":-100},{"s":"B","g":"B8","k":1,"a":20.54,"v":-130},{"s":"B","g":"B8","k":2,"a":20.3,"v":-161},{"s":"B","g":"B8","k":3,"a":20.26,"v":-130},
{"s":"B","g":"B9","k":0,"a":19.25,"v":-95},{"s":"B","g":"B9","k":1,"a":19.17,"v":-139},{"s":"B","g":"B9","k":2,"a":18.82,"v":-184},{"s":"B","g":"B9","k":3,"a":18.9,"v":-139},
{"s":"B","g":"B10","k":0,"a":19.76,"v":-100},{"s":"B","g":"B10","k":1,"a":19.69,"v":-151},{"s":"B","g":"B10","k":2,"a":19.34,"v":-203},{"s":"B","g":"B10","k":3,"a":19.41,"v":-151},
{"s":"B","g":"B11","k":0,"a":20.19,"v":-100},{"s":"B","g":"B11","k":1,"a":20.24,"v":-142},{"s":"B","g":"B11","k":2,"a":20.02,"v":-184},{"s":"B","g":"B11","k":3,"a":19.97,"v":-142},
{"s":"B","g":"B12","k":0,"a":18.0,"v":-85},{"s":"B","g":"B12","k":1,"a":17.94,"v":-137},{"s":"B","g":"B12","k":2,"a":17.6,"v":-190},{"s":"B","g":"B12","k":3,"a":17.66,"v":-137},
{"s":"B","g":"B13","k":0,"a":16.6,"v":-60},{"s":"B","g":"B13","k":1,"a":16.54,"v":-115},{"s":"B","g":"B13","k":2,"a":16.2,"v":-170},{"s":"B","g":"B13","k":3,"a":16.26,"v":-115},
{"s":"B","g":"B14","k":0,"a":15.9,"v":-30},{"s":"B","g":"B14","k":1,"a":15.84,"v":-85},{"s":"B","g":"B14","k":2,"a":15.5,"v":-140},{"s":"B","g":"B14","k":3,"a":15.56,"v":-85},
{"s":"B","g":"B15","k":0,"a":18.3,"v":-60},{"s":"B","g":"B15","k":1,"a":18.24,"v":-145},{"s":"B","g":"B15","k":2,"a":17.9,"v":-230},{"s":"B","g":"B15","k":3,"a":17.96,"v":-145},
{"s":"R","g":"R1","k":0,"a":20.53,"v":-161},{"s":"R","g":"R1","k":1,"a":20.54,"v":-224},{"s":"R","g":"R1","k":2,"a":20.19,"v":-288},{"s":"R","g":"R1","k":3,"a":20.18,"v":-224},
{"s":"R","g":"R2","k":0,"a":21.56,"v":-168},{"s":"R","g":"R2","k":1,"a":21.64,"v":-230},{"s":"R","g":"R2","k":2,"a":21.39,"v":-293},{"s":"R","g":"R2","k":3,"a":21.31,"v":-230},
{"s":"R","g":"R3","k":0,"a":25.7,"v":-278},{"s":"R","g":"R3","k":1,"a":25.68,"v":-370},{"s":"R","g":"R3","k":2,"a":25.3,"v":-462},{"s":"R","g":"R3","k":3,"a":25.32,"v":-370}],
"bbar":[
{"s":"g","a":1.66,"v":-175,"a2":0.98,"v2":-227},{"s":"g","a":3.29,"v":-168,"a2":2.69,"v2":-236},{"s":"g","a":4.67,"v":-182,"a2":4.07,"v2":-250},{"s":"g","a":6.55,"v":-189,"a2":6.21,"v2":-227},{"s":"g","a":7.07,"v":-135,"a2":6.73,"v2":-196},{"s":"g","a":8.35,"v":-184,"a2":7.84,"v2":-253},{"s":"g","a":9.38,"v":-175,"a2":8.87,"v2":-227},{"s":"g","a":10.41,"v":-189,"a2":10.07,"v2":-231},{"s":"g","a":11.6,"v":-156,"a2":11.1,"v2":-278},{"s":"g","a":12.13,"v":-194,"a2":11.79,"v2":-269},{"s":"g","a":13.07,"v":-203,"a2":12.65,"v2":-288},{"s":"g","a":13.67,"v":-208,"a2":13.42,"v2":-269},{"s":"g","a":14.45,"v":-203,"a2":14.1,"v2":-278},{"s":"g","a":14.87,"v":-189,"a2":14.7,"v2":-297},{"s":"g","a":11.85,"v":-185,"a2":11.6,"v2":-240},{"s":"g","a":12.5,"v":-180,"a2":12.3,"v2":-230},
{"s":"r","a":1.06,"v":-97,"a2":1.06,"v2":-116},{"s":"r","a":1.66,"v":-100,"a2":1.66,"v2":-121},{"s":"r","a":5.78,"v":-140,"a2":5.7,"v2":-165},{"s":"r","a":6.9,"v":-132,"a2":6.81,"v2":-161},{"s":"r","a":7.67,"v":-116,"a2":7.58,"v2":-147},{"s":"r","a":10.24,"v":-100,"a2":10.15,"v2":-161},{"s":"r","a":11.36,"v":-57,"a2":11.27,"v2":-147},{"s":"r","a":11.6,"v":-65,"a2":11.5,"v2":-140},{"s":"r","a":11.75,"v":-95,"a2":11.65,"v2":-170},{"s":"r","a":11.96,"v":-100,"a2":11.79,"v2":-184},{"s":"r","a":12.2,"v":-110,"a2":12.1,"v2":-170},{"s":"r","a":12.73,"v":-114,"a2":12.56,"v2":-184},{"s":"r","a":13.0,"v":-130,"a2":12.9,"v2":-185},{"s":"r","a":14.7,"v":-104,"a2":14.62,"v2":-184},{"s":"r","a":15.44,"v":-241,"a2":15.3,"v2":-297},{"s":"r","a":16.93,"v":-208,"a2":16.76,"v2":-297},{"s":"r","a":16.4,"v":-302,"a2":16.35,"v2":-330},
{"s":"n","a":0.05,"v":-66,"a2":0.12,"v2":-110},{"s":"n","a":0.3,"v":-118,"a2":0.35,"v2":-135},{"s":"n","a":4.58,"v":-67,"a2":4.49,"v2":-114},{"s":"n","a":5.87,"v":-97,"a2":5.78,"v2":-128},{"s":"n","a":6.43,"v":-85,"a2":6.38,"v2":-114},{"s":"n","a":11.87,"v":-52,"a2":11.72,"v2":-123},{"s":"n","a":12.47,"v":-161,"a2":12.39,"v2":-179},{"s":"n","a":13.67,"v":-161,"a2":13.42,"v2":-203},{"s":"n","a":16.68,"v":-109,"a2":16.16,"v2":-208}],
"bnavy":[{"a":0.03,"v":-76},{"a":0.29,"v":-128},{"a":1.66,"v":-107},{"a":4.58,"v":-90},{"a":5.87,"v":-111},{"a":6.38,"v":-100},{"a":11.8,"v":-78},{"a":12.65,"v":-130},{"a":13.45,"v":-182},{"a":16.25,"v":-156}],
"bmar":[{"a":1.06,"v":-107},{"a":1.66,"v":-109},{"a":5.7,"v":-151},{"a":6.8,"v":-144},{"a":7.67,"v":-128},{"a":10.24,"v":-123},{"a":11.36,"v":-100},{"a":12.0,"v":-140},{"a":12.7,"v":-150},{"a":13.2,"v":-151},{"a":14.0,"v":-140},{"a":14.7,"v":-137},{"a":16.75,"v":-260},{"a":20.5,"v":-222},{"a":21.5,"v":-231},{"a":25.5,"v":-368}],
"bgrn":[{"a":1.49,"v":-194},{"a":2.87,"v":-205},{"a":4.3,"v":-215},{"a":6.3,"v":-210},{"a":6.8,"v":-168},{"a":8.2,"v":-213},{"a":9.46,"v":-196},{"a":10.24,"v":-205},{"a":10.9,"v":-240},{"a":11.4,"v":-185},{"a":11.8,"v":-250},{"a":12.2,"v":-200},{"a":12.6,"v":-255},{"a":13.0,"v":-210},{"a":13.5,"v":-260},{"a":14.0,"v":-225},{"a":14.5,"v":-195},{"a":14.9,"v":-245},{"a":15.5,"v":-320},{"a":16.2,"v":-400},{"a":16.8,"v":-440},{"a":17.4,"v":-420},{"a":17.9,"v":-455},{"a":18.3,"v":-471},{"a":19.5,"v":-495},{"a":20.7,"v":-500},{"a":24.65,"v":-394},{"a":26.2,"v":-429},{"a":27.4,"v":-358},{"a":28.4,"v":-424}],
"bora":[{"a":9.4,"v":-189},{"a":11.95,"v":-306},{"a":12.5,"v":-270},{"a":13.2,"v":-250},{"a":14.0,"v":-300},{"a":14.7,"v":-302},{"a":16.76,"v":-434},{"a":17.6,"v":-440},{"a":18.3,"v":-424},{"a":18.9,"v":-372},{"a":20.1,"v":-372}],
"bblu":[{"a":12.7,"v":-50},{"a":13.1,"v":-118},{"a":14.9,"v":-100},{"a":15.7,"v":-92},{"a":16.9,"v":-102},{"a":17.6,"v":-140},{"a":18.1,"v":-125},{"a":18.6,"v":-160},{"a":19.1,"v":-140},{"a":19.6,"v":-170},{"a":20.2,"v":-150}]
},
"vconcat":[
{"width":583,"height":458,
"encoding":{
"x":{"field":"a","type":"quantitative","title":"Age (ka)","scale":{"domain":[0,30],"nice":false,"zero":false},
"axis":{"values":[0,1,2,3,4,5,6,7,8,9,10,11,12,13,14,15,16,17,18,19,20,21,22,23,24,25,26,27,28,29,30],"labelExpr":"datum.value % 5 === 0 ? datum.label : ''","tickSize":{"condition":{"test":"datum.value % 5 === 0","value":-8},"value":-4},"labelPadding":15,"titlePadding":0,"titleFontSize":24}},
"y":{"field":"v","type":"quantitative","title":"Δ¹⁴C (‰)","scale":{"domain":[-247,762],"nice":false,"zero":false},
"axis":{"values":[-200,-100,0,100,200,300,400,500,600,700],"labelExpr":"'' + datum.value","tickSize":-7,"labelPadding":12,"titlePadding":9,"titleY":249}}},
"layer":[
{"data":{"name":"ic"},"mark":{"type":"line","color":"#1e1e1e","strokeWidth":1.3},"encoding":{"detail":{"field":"c"}}},
{"data":{"name":"satl"},"mark":{"type":"line","color":"#2f6b30","strokeWidth":2}},
{"data":{"name":"satl"},"mark":{"type":"point","shape":"diamond","filled":false,"color":"#2f6b30","size":140,"strokeWidth":1.3}},
{"data":{"name":"npac"},"mark":{"type":"line","color":"#efa12a","strokeWidth":1.8}},
{"data":{"name":"npac"},"mark":{"type":"point","shape":"circle","filled":false,"color":"#efa12a","size":120,"strokeWidth":1.3}},
{"data":{"name":"cape"},"mark":{"type":"line","color":"#e58db5","strokeWidth":1.6}},
{"data":{"name":"cape"},"mark":{"type":"point","shape":"square","filled":false,"color":"#e58db5","size":90,"strokeWidth":1.3}},
{"data":{"name":"chile"},"mark":{"type":"line","color":"#6b95e3","strokeWidth":1.6}},
{"data":{"name":"chile"},"mark":{"type":"point","shape":"triangle-up","filled":false,"color":"#6b95e3","size":110,"strokeWidth":1.3}},
{"data":{"name":"ucdw"},"mark":{"type":"line","color":"#d2352b","strokeWidth":2.5}},
{"data":{"name":"ucdw"},"mark":{"type":"point","shape":"M0,-1L0.235,-0.324L0.951,-0.309L0.38,0.124L0.588,0.809L0,0.4L-0.588,0.809L-0.38,0.124L-0.951,-0.309L-0.235,-0.324Z","filled":true,"color":"#d2352b","size":170,"opacity":1}},
{"data":{"name":"nstar"},"mark":{"type":"point","shape":"M0,-1L0.235,-0.324L0.951,-0.309L0.38,0.124L0.588,0.809L0,0.4L-0.588,0.809L-0.38,0.124L-0.951,-0.309L-0.235,-0.324Z","filled":true,"color":"#1f2066","size":150,"opacity":1}},
{"data":{"name":"abar"},"transform":[{"filter":"datum.s === 'r'"}],"mark":{"type":"rule","color":"#d2352b","strokeWidth":3.5,"strokeCap":"round"},"encoding":{"x2":{"field":"a2"},"y2":{"field":"v2"}}},
{"data":{"name":"abar"},"transform":[{"filter":"datum.s === 'n'"}],"mark":{"type":"rule","color":"#1f2066","strokeWidth":4,"strokeCap":"round"},"encoding":{"x2":{"field":"a2"},"y2":{"field":"v2"}}},
{"data":{"name":"aell"},"transform":[{"filter":"datum.s === 'r'"}],"mark":{"type":"line","color":"#e0552a","strokeWidth":1.6,"interpolate":"cardinal-closed"},"encoding":{"detail":{"field":"g"},"order":{"field":"k"}}},
{"data":{"name":"aell"},"transform":[{"filter":"datum.s === 'n'"}],"mark":{"type":"line","color":"#1f2066","strokeWidth":2.5,"interpolate":"cardinal-closed"},"encoding":{"detail":{"field":"g"},"order":{"field":"k"}}},
{"data":{"values":[{"a":17.7,"v":152,"a2":16.3,"v2":54},{"a":15.3,"v":24,"a2":14.6,"v2":70}]},"mark":{"type":"rule","color":"#111","strokeWidth":3.5},"encoding":{"x2":{"field":"a2"},"y2":{"field":"v2"}}},
{"data":{"values":[{"a":16.2,"v":44}]},"mark":{"type":"point","shape":"triangle-down","filled":true,"color":"#111","size":130,"angle":32,"opacity":1}},
{"data":{"values":[{"a":14.5,"v":80}]},"mark":{"type":"point","shape":"triangle-up","filled":true,"color":"#111","size":130,"angle":326,"opacity":1}},
{"data":{"values":[{"t":"a","a":1.3,"v":697}]},"mark":{"type":"text","font":"Liberation Sans","fontSize":27,"color":"#1a1a1a","align":"center","baseline":"middle"},"encoding":{"text":{"field":"t"}}},
{"data":{"values":[{"t":"IntCal09","a":20.07,"v":657},{"t":"atmosphere","a":20.07,"v":609}]},"mark":{"type":"text","font":"Open Sans","fontSize":17.5,"color":"#1a1a1a","align":"left","baseline":"middle"},"encoding":{"text":{"field":"t"}}},
{"data":{"values":[{"t":"AAIW","a":16.73,"v":216}]},"mark":{"type":"text","font":"Open Sans","fontSize":18,"fontWeight":600,"color":"#1f2066","align":"left","baseline":"middle"},"encoding":{"text":{"field":"t"}}},
{"data":{"values":[{"t":"UCDW","a":22.18,"v":211}]},"mark":{"type":"text","font":"Open Sans","fontSize":18,"color":"#d2352b","align":"left","baseline":"middle"},"encoding":{"text":{"field":"t"}}},
{"data":{"values":[{"t":"S. Atlantic","a":23.98,"v":-6},{"t":"(3770 m; LCDW)","a":23.98,"v":-63}]},"mark":{"type":"text","font":"Open Sans","fontSize":19,"color":"#2a2a2a","align":"left","baseline":"middle"},"encoding":{"text":{"field":"t"}}},
{"data":{"values":[{"t":"1","a":17.57,"v":94},{"t":"2","a":14.65,"v":32}]},"mark":{"type":"text","font":"Open Sans","fontSize":20,"fontWeight":"bold","color":"#111","align":"center","baseline":"middle"},"encoding":{"text":{"field":"t"}}},
{"data":{"values":[{"s":"Chile Margin (1000 m; AAIW)","a":1,"v":700},{"s":"Cape Basin (4981 m; AABW)","a":1,"v":700},{"s":"N. Pacific (3647 m)","a":1,"v":700}]},
"mark":{"type":"point","filled":false,"opacity":0,"size":400,"strokeWidth":1.5},
"encoding":{
"color":{"field":"s","type":"nominal","scale":{"domain":["Chile Margin (1000 m; AAIW)","Cape Basin (4981 m; AABW)","N. Pacific (3647 m)"],"range":["#6b95e3","#e58db5","#efa12a"]},
"legend":{"title":null,"orient":"none","legendX":14,"legendY":84,"symbolOpacity":1,"symbolSize":400,"symbolStrokeWidth":1.5,"symbolFillColor":"transparent","labelFont":"Open Sans","labelFontSize":20,"labelColor":"#222","labelOffset":9,"labelLimit":500,"rowPadding":8,"padding":0}},
"shape":{"field":"s","type":"nominal","scale":{"domain":["Chile Margin (1000 m; AAIW)","Cape Basin (4981 m; AABW)","N. Pacific (3647 m)"],"range":["M-1.55,0H1.55M0,-0.55L0.55,0.4H-0.55Z","M-1.55,0H1.55M-0.42,-0.42H0.42V0.42H-0.42Z","M-1.55,0H1.55M0.5,0A0.5,0.5,0,1,1,-0.5,0A0.5,0.5,0,1,1,0.5,0Z"]},
"legend":{"title":null,"orient":"none","legendX":14,"legendY":84,"symbolOpacity":1,"symbolSize":400,"symbolStrokeWidth":1.5,"symbolFillColor":"transparent","labelFont":"Open Sans","labelFontSize":20,"labelColor":"#222","labelOffset":9,"labelLimit":500,"rowPadding":8,"padding":0}}}}
]},
{"width":583,"height":457,
"encoding":{
"x":{"field":"a","type":"quantitative","title":"Age (ka)","scale":{"domain":[0,30],"nice":false,"zero":false},
"axis":{"values":[0,1,2,3,4,5,6,7,8,9,10,11,12,13,14,15,16,17,18,19,20,21,22,23,24,25,26,27,28,29,30],"labelExpr":"datum.value % 5 === 0 ? datum.label : ''","tickSize":{"condition":{"test":"datum.value % 5 === 0","value":-8},"value":-4},"labelPadding":15,"titlePadding":0,"titleFontSize":24}},
"y":{"field":"v","type":"quantitative","title":"ΔΔ¹⁴C (‰)","scale":{"domain":[-645,-1],"nice":false,"zero":false},
"axis":{"values":[-600,-500,-400,-300,-200,-100],"labelExpr":"'' + datum.value","tickSize":-7,"labelPadding":12,"titlePadding":9}}},
"layer":[
{"data":{"name":"bell"},"transform":[{"filter":"datum.s === 'G'"}],"mark":{"type":"line","color":"#2a4434","strokeWidth":1.3,"interpolate":"cardinal-closed"},"encoding":{"detail":{"field":"g"},"order":{"field":"k"}}},
{"data":{"name":"bell"},"transform":[{"filter":"datum.s === 'M'"}],"mark":{"type":"line","color":"#213a2b","strokeWidth":2.2,"interpolate":"cardinal-closed"},"encoding":{"detail":{"field":"g"},"order":{"field":"k"}}},
{"data":{"name":"bell"},"transform":[{"filter":"datum.s === 'O'"}],"mark":{"type":"line","color":"#e8782b","strokeWidth":1.6,"interpolate":"cardinal-closed"},"encoding":{"detail":{"field":"g"},"order":{"field":"k"}}},
{"data":{"name":"bell"},"transform":[{"filter":"datum.s === 'P'"}],"mark":{"type":"line","color":"#e387b8","strokeWidth":2.2,"interpolate":"cardinal-closed"},"encoding":{"detail":{"field":"g"},"order":{"field":"k"}}},
{"data":{"name":"bell"},"transform":[{"filter":"datum.s === 'B'"}],"mark":{"type":"line","color":"#4a7fe0","strokeWidth":2.4,"interpolate":"cardinal-closed"},"encoding":{"detail":{"field":"g"},"order":{"field":"k"}}},
{"data":{"name":"bell"},"transform":[{"filter":"datum.s === 'R'"}],"mark":{"type":"line","color":"#8a1c1e","strokeWidth":5,"interpolate":"cardinal-closed"},"encoding":{"detail":{"field":"g"},"order":{"field":"k"}}},
{"data":{"name":"rl"},"mark":{"type":"line","color":"#1e1e1e","strokeWidth":1.8},"encoding":{"detail":{"field":"c"}}},
{"data":{"values":[{"a":14.7,"v":-1,"v2":-645}]},"mark":{"type":"rule","color":"#1e1e1e","strokeWidth":2,"strokeDash":[2,3]},"encoding":{"y2":{"field":"v2"}}},
{"data":{"name":"bora"},"mark":{"type":"line","color":"#e8782b","strokeWidth":2.5}},
{"data":{"name":"bblu"},"mark":{"type":"line","color":"#4a7fe0","strokeWidth":2.5}},
{"data":{"name":"bgrn"},"mark":{"type":"line","color":"#213a2b","strokeWidth":3}},
{"data":{"name":"bmar"},"mark":{"type":"line","color":"#8a1c1e","strokeWidth":3}},
{"data":{"name":"bnavy"},"mark":{"type":"line","color":"#1b1f66","strokeWidth":3}},
{"data":{"name":"bbar"},"transform":[{"filter":"datum.s === 'g'"}],"mark":{"type":"rule","color":"#213a2b","strokeWidth":4,"strokeCap":"round"},"encoding":{"x2":{"field":"a2"},"y2":{"field":"v2"}}},
{"data":{"name":"bbar"},"transform":[{"filter":"datum.s === 'r'"}],"mark":{"type":"rule","color":"#8a1c1e","strokeWidth":6,"strokeCap":"round"},"encoding":{"x2":{"field":"a2"},"y2":{"field":"v2"}}},
{"data":{"name":"bbar"},"transform":[{"filter":"datum.s === 'n'"}],"mark":{"type":"rule","color":"#1b1f66","strokeWidth":5,"strokeCap":"round"},"encoding":{"x2":{"field":"a2"},"y2":{"field":"v2"}}},
{"data":{"values":[{"a":14.65,"v":-580,"a2":3.9},{"a":14.9,"v":-600,"a2":25.6}]},"mark":{"type":"rule","color":"#1e1e1e","strokeWidth":1.5},"encoding":{"x2":{"field":"a2"}}},
{"data":{"values":[{"a":3.85,"v":-580}]},"mark":{"type":"point","shape":"triangle-left","filled":true,"color":"#1e1e1e","size":45,"opacity":1}},
{"data":{"values":[{"a":25.7,"v":-600}]},"mark":{"type":"point","shape":"triangle-right","filled":true,"color":"#1e1e1e","size":45,"opacity":1}},
{"data":{"values":[{"t":"b","a":0.85,"v":0}]},"mark":{"type":"text","font":"Liberation Sans","fontSize":27,"color":"#1a1a1a","align":"center","baseline":"middle"},"encoding":{"text":{"field":"t"}}},
{"data":{"values":[{"t":"1000 y","a":29.18,"v":-164},{"t":"2000 y","a":29.44,"v":-319},{"t":"3000 y","a":29.13,"v":-464},{"t":"4000 y","a":28.4,"v":-599}]},"mark":{"type":"text","font":"Liberation Sans","fontSize":21,"color":"#1a1a1a","align":"left","baseline":"middle"},"encoding":{"text":{"field":"t"}}},
{"data":{"values":[{"t":"relatively young deep water","a":8.56,"v":-603},{"t":"relatively old deep water","a":20.4,"v":-622}]},"mark":{"type":"text","font":"Open Sans","fontSize":18,"color":"#2a2a2a","align":"center","baseline":"middle"},"encoding":{"text":{"field":"t"}}}
]}
]
}
